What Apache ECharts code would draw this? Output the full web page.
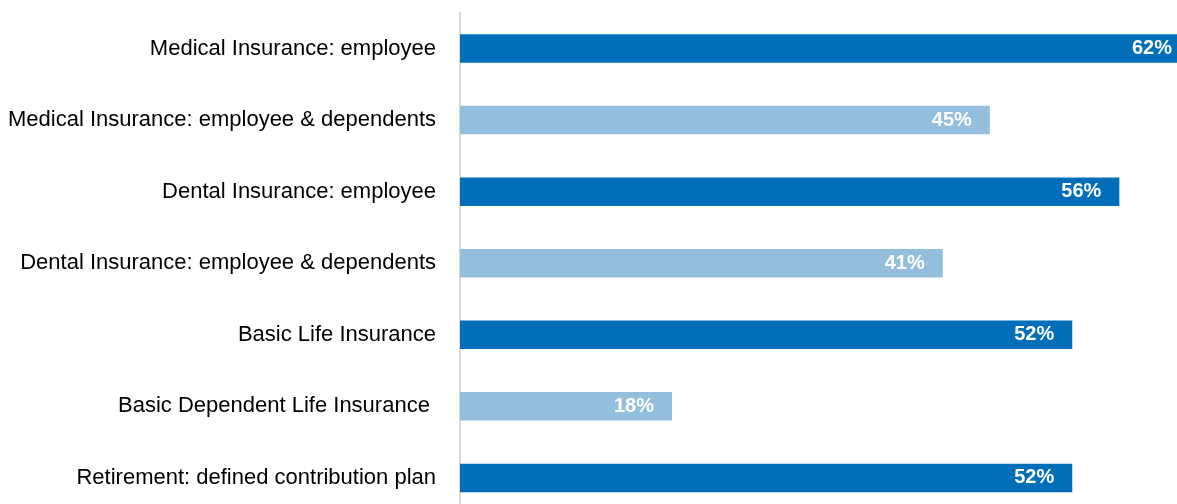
<!DOCTYPE html>
<html>
<head>
<meta charset="utf-8">
<style>
  html, body { margin: 0; padding: 0; background: #ffffff; }
  #chart { width: 1177px; height: 504px; }
</style>
<script src="https://cdn.jsdelivr.net/npm/echarts@6/dist/echarts.min.js"></script>
</head>
<body>
<div id="chart"></div>
<script>
// Benefit categories, top to bottom
const categories = [
  'Medical Insurance: employee',
  'Medical Insurance: employee & dependents',
  'Dental Insurance: employee',
  'Dental Insurance: employee & dependents',
  'Basic Life Insurance',
  'Basic Dependent Life Insurance ',
  'Retirement: defined contribution plan'
];
// Share of employers (percent)
const values = [62, 45, 56, 41, 52, 18, 52];

const DARK = '#006EB9';
const LIGHT = '#93BEDC';

const chart = echarts.init(document.getElementById('chart'), null, { renderer: 'canvas' });

chart.setOption({
  animation: false,
  // plot area runs a little past the right and bottom edges of the canvas
  grid: {
    left: 460, top: 12.7, width: 730, height: 501,
    containLabel: false,
    outerBoundsMode: 'none'
  },
  xAxis: {
    type: 'value',
    min: 0,
    max: 62,
    show: false
  },
  yAxis: {
    type: 'category',
    data: categories,
    inverse: true,
    offset: 1,
    axisLine: { show: true, lineStyle: { color: '#D9D9D9', width: 2 } },
    axisTick: { show: false },
    axisLabel: {
      margin: 23,
      color: '#000000',
      fontFamily: 'Liberation Sans, Arial, sans-serif',
      fontSize: 22
    }
  },
  series: [{
    type: 'bar',
    barWidth: 28.5,
    clip: false,
    data: values.map((v, i) => ({
      value: v,
      itemStyle: { color: i % 2 === 0 ? DARK : LIGHT }
    })),
    label: {
      show: true,
      position: 'insideRight',
      distance: 18,
      formatter: p => p.value + '%',
      color: '#ffffff',
      fontFamily: 'Liberation Sans, Arial, sans-serif',
      fontWeight: 'bold',
      fontSize: 20
    }
  }]
});
</script>
</body>
</html>
